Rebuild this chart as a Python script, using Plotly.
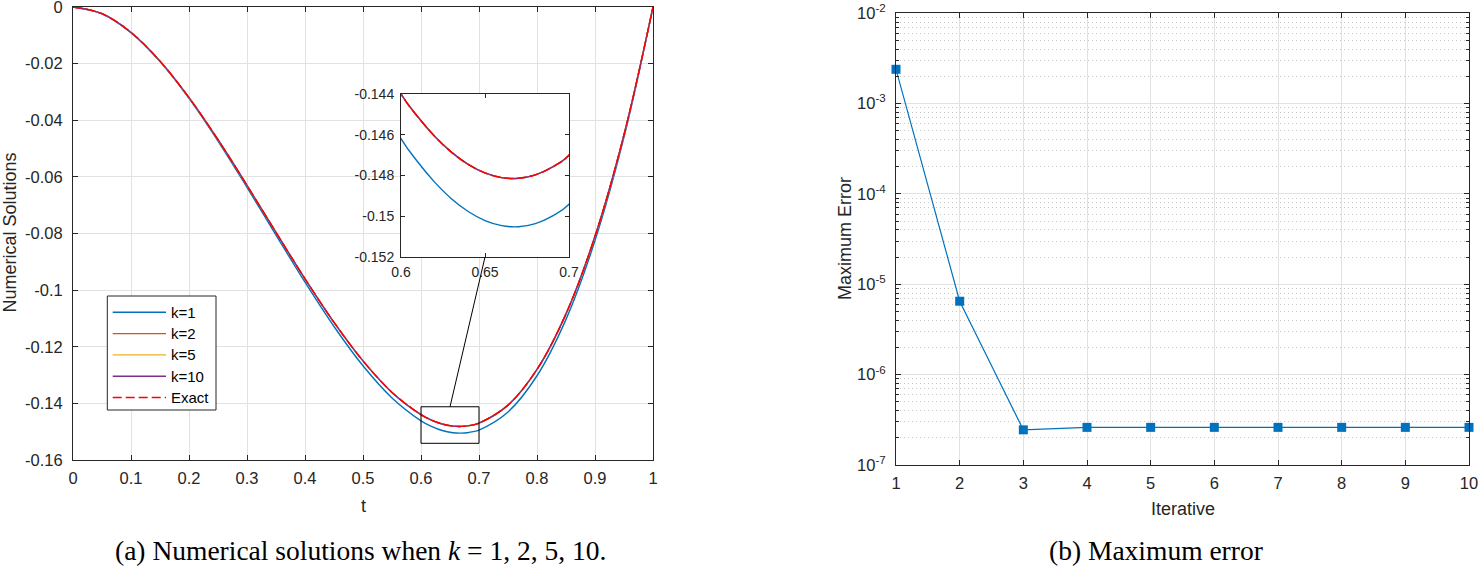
import plotly.graph_objects as go

W, H = 1480, 574

# ---------------- data ----------------
t = [0, 0.05, 0.1, 0.15, 0.2, 0.25, 0.3, 0.35, 0.4, 0.45, 0.5, 0.55,
     0.6, 0.61, 0.62, 0.63, 0.64, 0.65, 0.66, 0.67, 0.68, 0.69, 0.7,
     0.75, 0.8, 0.85, 0.9, 0.95, 1]

exact = [0, -0.002375, -0.009, -0.019125, -0.032, -0.046875, -0.063, -0.079625,
         -0.096, -0.111375, -0.125, -0.136125,
         -0.144, -0.145119, -0.146072, -0.146853, -0.147456, -0.147875, -0.148104,
         -0.148137, -0.147968, -0.147591, -0.147,
         -0.140625, -0.128, -0.108375, -0.081, -0.045125, 0]

k1 = [0, -0.002385, -0.009056, -0.019270, -0.032280, -0.047334, -0.063676, -0.080548,
      -0.097190, -0.112839, -0.126732, -0.138104,
      -0.146186, -0.147340, -0.148326, -0.149138, -0.149768, -0.150212, -0.150462,
      -0.150514, -0.150360, -0.149994, -0.149411,
      -0.143012, -0.130244, -0.110333, -0.082506, -0.045987, 0]

k2 = [0, -0.002375, -0.009, -0.019125, -0.032, -0.046876, -0.063001, -0.079627,
      -0.096002, -0.111378, -0.125003, -0.136129,
      -0.144004, -0.145123, -0.146076, -0.146857, -0.147460, -0.147879, -0.148108,
      -0.148141, -0.147972, -0.147595, -0.147004,
      -0.140629, -0.128004, -0.108378, -0.081003, -0.045126, 0]

k5 = [0, -0.002375, -0.009, -0.019125, -0.032, -0.046875, -0.063, -0.079625,
      -0.096, -0.111375, -0.125, -0.136125,
      -0.144, -0.145119, -0.146072, -0.146853, -0.147456, -0.147875, -0.148104,
      -0.148137, -0.147968, -0.147591, -0.147,
      -0.140625, -0.128, -0.108375, -0.081, -0.045125, 0]

k10 = [0, -0.002375, -0.009, -0.019125, -0.032, -0.046875, -0.063, -0.079625,
       -0.096, -0.111375, -0.125, -0.136125,
       -0.144, -0.145119, -0.146072, -0.146853, -0.147456, -0.147875, -0.148104,
       -0.148137, -0.147968, -0.147591, -0.147,
       -0.140625, -0.128, -0.108375, -0.081, -0.045125, 0]

series_names = ["k=1", "k=2", "k=5", "k=10", "Exact"]

iterations = [1, 2, 3, 4, 5, 6, 7, 8, 9, 10]
max_error = [2.40e-3, 6.5e-6, 2.45e-7, 2.61e-7, 2.61e-7, 2.61e-7, 2.61e-7,
             2.61e-7, 2.61e-7, 2.61e-7]

x_ticks = [0, 0.1, 0.2, 0.3, 0.4, 0.5, 0.6, 0.7, 0.8, 0.9, 1]
x_tick_text = ["0", "0.1", "0.2", "0.3", "0.4", "0.5", "0.6", "0.7", "0.8", "0.9", "1"]
y_ticks = [0, -0.02, -0.04, -0.06, -0.08, -0.1, -0.12, -0.14, -0.16]
y_tick_text = ["0", "-0.02", "-0.04", "-0.06", "-0.08", "-0.1", "-0.12", "-0.14", "-0.16"]
inset_x_ticks = [0.6, 0.65, 0.7]
inset_x_text = ["0.6", "0.65", "0.7"]
inset_y_ticks = [-0.144, -0.146, -0.148, -0.15, -0.152]
inset_y_text = ["-0.144", "-0.146", "-0.148", "-0.15", "-0.152"]
iter_ticks = [1, 2, 3, 4, 5, 6, 7, 8, 9, 10]
iter_tick_text = ["1", "2", "3", "4", "5", "6", "7", "8", "9", "10"]
err_exponents = [-7, -6, -5, -4, -3, -2]
err_ticks = [10.0 ** e for e in err_exponents]
err_tick_text = ["10<sup>%d</sup>" % e for e in err_exponents]
err_minor = [m * 10.0 ** e for e in err_exponents[:-1] for m in range(2, 10)]

zoom_box = dict(x0=0.6, x1=0.7, y0=-0.1541, y1=-0.1412)
main_range_x = [0, 1]
main_range_y = [-0.16, 0]
inset_range_x = [0.6, 0.7]
inset_range_y = [-0.152, -0.144]

# ---------------- styling ----------------
colors = ["#0072BD", "#D95319", "#EDB120", "#7E2F8E", "#FF0000"]
dashes = ["solid", "solid", "solid", "solid", "9px,4px"]
AX = "#262626"
GRID = "#e2e2e2"
MINOR_GRID = "#c8c8c8"
FONT = "Liberation Sans"
TICK_SIZE = 16.5
TITLE_SIZE = 18
CAPTION_FONT = dict(family="Liberation Serif", size=27.5, color="black")


def px(x):
    return x / W


def py(y):
    return 1 - y / H


dom_a_x = [px(73), px(653)]
dom_a_y = [py(460), py(7)]
dom_b_x = [px(896), px(1469)]
dom_b_y = [py(465), py(13.3)]
dom_i_x = [px(401), px(569)]
dom_i_y = [py(257), py(94)]

fig = go.Figure()

series = [k1, k2, k5, k10, exact]
for ax_x, ax_y in [("x", "y"), ("x3", "y3")]:
    for name, ys, c, d in zip(series_names, series, colors, dashes):
        fig.add_trace(go.Scatter(
            x=t, y=ys, mode="lines", name=name, showlegend=False,
            line=dict(color=c, width=1.4, dash=d, shape="spline"),
            xaxis=ax_x, yaxis=ax_y, hoverinfo="skip"))

fig.add_trace(go.Scatter(
    x=iterations, y=max_error, mode="lines+markers", showlegend=False,
    line=dict(color="#0072BD", width=1.2),
    marker=dict(symbol="square", size=9, color="#0072BD"),
    cliponaxis=False, xaxis="x2", yaxis="y2"))

common = dict(showline=True, linecolor=AX, linewidth=1, mirror="ticks",
              ticks="inside", tickcolor=AX, zeroline=False, automargin=False,
              ticklabeloverflow="allow",
              tickfont=dict(family=FONT, size=TICK_SIZE, color=AX))
inset_common = {**common, "tickfont": dict(family=FONT, size=14, color=AX)}

fig.update_layout(
    width=W, height=H, margin=dict(l=0, r=0, t=0, b=0, autoexpand=False),
    paper_bgcolor="white", plot_bgcolor="white", showlegend=False,
    font=dict(family=FONT, color=AX),
    xaxis=dict(domain=dom_a_x, anchor="y", range=main_range_x, tickmode="array",
               tickvals=x_ticks, ticktext=x_tick_text, ticklen=5,
               showgrid=True, gridcolor=GRID, ticklabelstandoff=3, **common),
    yaxis=dict(domain=dom_a_y, anchor="x", range=main_range_y, tickmode="array",
               tickvals=y_ticks, ticktext=y_tick_text, ticklen=5,
               showgrid=True, gridcolor=GRID, ticklabelstandoff=6, **common),
    xaxis2=dict(domain=dom_b_x, anchor="y2", range=[1, 10], tickmode="array",
                tickvals=iter_ticks, ticktext=iter_tick_text, ticklen=5,
                showgrid=True, gridcolor=GRID, ticklabelstandoff=3, **common),
    yaxis2=dict(domain=dom_b_y, anchor="x2", type="log", range=[-7, -2],
                tickmode="array", tickvals=err_ticks, ticktext=err_tick_text,
                ticklen=5, showgrid=True, gridcolor=GRID, ticklabelstandoff=6,
                minor=dict(tickmode="array", tickvals=err_minor, ticks="inside",
                           ticklen=3, tickcolor=AX, showgrid=True,
                           gridcolor=MINOR_GRID, griddash="1px,3px", gridwidth=1),
                **common),
    xaxis3=dict(domain=dom_i_x, anchor="y3", range=inset_range_x, tickmode="array",
                tickvals=inset_x_ticks, ticktext=inset_x_text, ticklen=4,
                showgrid=False, ticklabelstandoff=2, **inset_common),
    yaxis3=dict(domain=dom_i_y, anchor="x3", range=inset_range_y, tickmode="array",
                tickvals=inset_y_ticks, ticktext=inset_y_text, ticklen=4,
                showgrid=False, ticklabelstandoff=3, **inset_common),
)

# zoom box + connector
fig.add_shape(type="rect", xref="x", yref="y", line=dict(color="black", width=1),
              fillcolor="rgba(0,0,0,0)", **zoom_box)


def data_to_paper(v, rng, dom):
    return dom[0] + (v - rng[0]) / (rng[1] - rng[0]) * (dom[1] - dom[0])


mid_x = (zoom_box["x0"] + zoom_box["x1"]) / 2
fig.add_shape(type="line", xref="paper", yref="paper",
              x0=data_to_paper(mid_x, main_range_x, dom_a_x),
              y0=data_to_paper(zoom_box["y1"], main_range_y, dom_a_y),
              x1=data_to_paper(mid_x, inset_range_x, dom_i_x),
              y1=dom_i_y[0], line=dict(color="black", width=1))

# manual legend
fig.add_shape(type="rect", xref="paper", yref="paper",
              x0=px(107.3), x1=px(216), y0=py(410), y1=py(296),
              line=dict(color=AX, width=1), fillcolor="white")
entry_y = [312.3, 333.6, 354.9, 376.2, 397.5]
for name, c, d, ey in zip(series_names, colors, dashes, entry_y):
    fig.add_shape(type="line", xref="paper", yref="paper",
                  x0=px(112.7), x1=px(166), y0=py(ey), y1=py(ey),
                  line=dict(color=c, width=1.4, dash=d))
    fig.add_annotation(x=px(169), y=py(ey), xref="paper", yref="paper",
                       text=name, showarrow=False, xanchor="left", yanchor="middle",
                       font=dict(family=FONT, size=15, color="black"))


def label(x, y, text, font, angle=0):
    fig.add_annotation(x=px(x), y=py(y), xref="paper", yref="paper", text=text,
                       textangle=angle, showarrow=False, xanchor="center",
                       yanchor="middle", font=font)


title_font = dict(family=FONT, size=TITLE_SIZE, color=AX)
label(10, 232.5, "Numerical Solutions", title_font, -90)
label(363, 506, "t", title_font)
label(845, 239, "Maximum Error", title_font, -90)
label(1183, 509, "Iterative", title_font)

# captions
label(360, 550, "(a) Numerical solutions when <i>k</i> = 1, 2, 5, 10.", CAPTION_FONT)
label(1156, 550, "(b) Maximum error", CAPTION_FONT)

fig.write_html(
    "out.html",
    config={"displayModeBar": False},
    post_script="document.body.style.margin='0';document.body.style.overflow='hidden';",
)
